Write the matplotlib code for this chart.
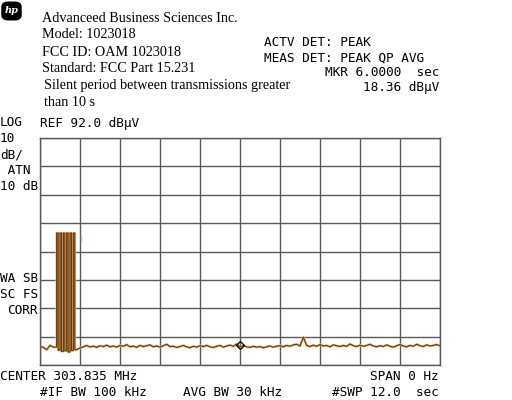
import numpy as np
import matplotlib.pyplot as plt
from matplotlib.patches import FancyBboxPatch

# analyzer settings
ref_level = 92.0
db_per_div = 10
n_div_y = 8
sweep_time = 12.0
n_div_x = 10

# pulse train (sec, dBuV)
pulse_start = [0.50, 0.60, 0.70, 0.80, 0.90, 1.00]
pulse_width = 0.045
pulse_top = 58.5
pulse_dip = [17.2, 16.8, 17.0, 16.6, 17.1, 17.4]

# noise floor before / after the burst, 0.1 s steps
pre_t0 = 0.0
pre_db = [18.6, 18.2, 17.4, 18.9, 18.3]
post_t0 = 1.2
post_db = [18.0, 18.4, 18.9, 18.3, 18.7, 18.2, 18.8, 18.5, 19.0, 18.4,
           18.7, 18.3, 18.9, 18.6, 19.2, 18.4, 18.7, 18.2, 18.9, 18.5,
           18.8, 19.1, 18.4, 18.7, 18.3, 18.8, 19.3, 18.5, 18.6, 18.2,
           18.5, 18.9, 18.4, 18.1, 18.6, 18.3, 18.8, 18.5, 18.9, 18.4,
           18.2, 18.6, 18.9, 18.3, 18.7, 19.0, 18.6, 19.4, 18.36, 18.9,
           18.4, 18.2, 18.6, 18.3, 18.5, 18.1, 18.4, 18.7, 18.3, 18.6,
           18.8, 18.4, 18.9, 18.6, 19.1, 19.3, 18.7, 21.8, 18.9, 18.5,
           19.0, 18.6, 19.2, 18.7, 18.9, 18.4, 19.1, 18.8, 18.5, 18.9,
           18.6, 19.4, 18.8, 18.5, 19.0, 18.6, 18.9, 19.3, 18.7, 18.4,
           18.8, 18.5, 19.1, 18.6, 18.3, 18.8, 19.2, 18.7, 18.4, 18.9,
           18.6, 19.3, 18.8, 18.5, 19.1, 18.7, 18.9, 19.2, 18.8]

marker_t = 6.0
marker_db = 18.36

# build trace
tt = [pre_t0 + 0.1 * i for i in range(len(pre_db))]
yy = list(pre_db)
for s, d in zip(pulse_start, pulse_dip):
    tt += [s, s, s + pulse_width, s + pulse_width, s + 0.1]
    yy += [yy[-1], pulse_top, pulse_top, d, d]
tt += [post_t0 + 0.1 * i for i in range(len(post_db))]
yy += post_db

fig = plt.figure(figsize=(5.12, 4.0), dpi=100)
ax = fig.add_axes([40 / 512, 35 / 400, 400 / 512, 227 / 400])
ax.set_xlim(0, sweep_time)
ax.set_ylim(ref_level - db_per_div * n_div_y, ref_level)
ax.set_xticks(np.linspace(0, sweep_time, n_div_x + 1))
ax.set_yticks(np.linspace(ref_level - db_per_div * n_div_y, ref_level, n_div_y + 1))
ax.tick_params(length=0, labelbottom=False, labelleft=False)
ax.grid(True, color='#5a5a5a', linewidth=1.0)
for sp in ax.spines.values():
    sp.set_color('#5a5a5a')
    sp.set_linewidth(1.0)

ax.plot(tt, yy, color='#f5c68c', linewidth=1.8)
ax.plot(tt, yy, color='#6b3a0c', linewidth=0.9)
ax.plot([1.22, 1.22], [55.6, 57.4], color='#e8b070', linewidth=1.0)
ax.plot(marker_t, marker_db + 0.6, marker='D', markersize=4.5,
        markerfacecolor='none', markeredgecolor='black', markeredgewidth=0.9)

# hp logo
fig.patches.append(FancyBboxPatch((3 / 512, 381 / 400), 17 / 512, 16 / 400,
                                  boxstyle='round,pad=0.002,rounding_size=0.012',
                                  transform=fig.transFigure, facecolor='black',
                                  edgecolor='black'))
fig.text(11.5 / 512, 1 - 10.5 / 400, 'hp', color='white', fontsize=7, style='italic',
         fontweight='bold', ha='center', va='center', family='DejaVu Serif')

serif = dict(family='Liberation Serif', fontsize=10.2, va='center', color='black')
fig.text(42 / 512, 1 - 19 / 400, 'Advanceed Business Sciences Inc.', **serif)
fig.text(42 / 512, 1 - 35 / 400, 'Model: 1023018', **serif)
fig.text(42 / 512, 1 - 52 / 400, 'FCC ID: OAM 1023018', **serif)
fig.text(42 / 512, 1 - 68 / 400, 'Standard: FCC Part 15.231', **serif)
fig.text(44 / 512, 1 - 86 / 400, 'Silent period between transmissions greater', **serif)
fig.text(44 / 512, 1 - 102 / 400, 'than 10 s', **serif)

mono = dict(family='DejaVu Sans Mono', fontsize=9.2, va='center', color='black')


def txt(x, y, s, ha='left'):
    fig.text(x / 512, 1 - y / 400, s, ha=ha, **mono)


txt(264, 42, 'ACTV DET: PEAK')
txt(264, 58, 'MEAS DET: PEAK QP AVG')
txt(439, 73, 'MKR 6.0000  sec', ha='right')
txt(439, 88, '18.36 dBµV', ha='right')
txt(0, 123, 'LOG')
txt(40, 123, 'REF 92.0 dBµV')
txt(0, 139, '10')
txt(0, 155, 'dB/')
txt(0, 170, ' ATN')
txt(0, 186, '10 dB')
txt(38, 278, 'WA SB', ha='right')
txt(38, 294, 'SC FS', ha='right')
txt(38, 310, 'CORR', ha='right')
txt(0, 377, 'CENTER 303.835 MHz')
txt(40, 393, '#IF BW 100 kHz')
txt(183, 393, 'AVG BW 30 kHz')
txt(439, 377, 'SPAN 0 Hz', ha='right')
txt(439, 393, '#SWP 12.0  sec', ha='right')

fig.savefig('out.png', dpi=100)
